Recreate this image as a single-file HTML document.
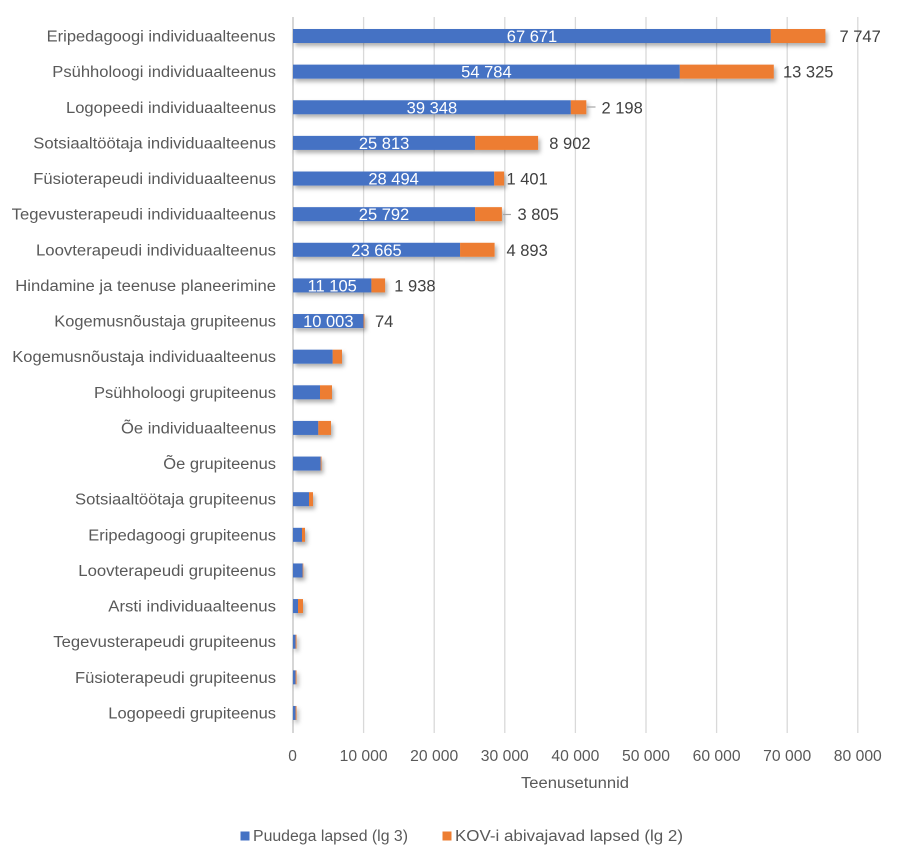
<!DOCTYPE html>
<html><head><meta charset="utf-8"><style>
html,body{margin:0;padding:0;background:#fff;}
svg{display:block;}
text{font-family:"Liberation Sans",Arial,sans-serif;}
</style></head><body>
<svg width="901" height="859" viewBox="0 0 901 859" xmlns="http://www.w3.org/2000/svg">
<defs>
<filter id="sh" x="-5%" y="-50%" width="115%" height="250%">
<feDropShadow dx="2" dy="3" stdDeviation="2" flood-color="#000" flood-opacity="0.32"/>
</filter>
</defs>
<rect width="901" height="859" fill="#fff"/>
<!-- gridlines -->
<g stroke="#d9d9d9" stroke-width="1.3">
<line x1="363.6" y1="17" x2="363.6" y2="733"/>
<line x1="434.2" y1="17" x2="434.2" y2="733"/>
<line x1="504.8" y1="17" x2="504.8" y2="733"/>
<line x1="575.4" y1="17" x2="575.4" y2="733"/>
<line x1="646" y1="17" x2="646" y2="733"/>
<line x1="716.6" y1="17" x2="716.6" y2="733"/>
<line x1="787.2" y1="17" x2="787.2" y2="733"/>
<line x1="857.8" y1="17" x2="857.8" y2="733"/>
</g>
<line x1="293" y1="17" x2="293" y2="733" stroke="#c8c8c8" stroke-width="1.5"/>

<!-- bars -->
<g filter="url(#sh)">
<g>
<rect x="293" y="29" width="477.8" height="14" fill="#4472C4"/><rect x="770.8" y="29" width="54.6" height="14" fill="#ED7D31"/>
</g>
<g>
<rect x="293" y="64.63" width="386.8" height="14" fill="#4472C4"/><rect x="679.8" y="64.63" width="94" height="14" fill="#ED7D31"/>
</g>
<g>
<rect x="293" y="100.26" width="277.8" height="14" fill="#4472C4"/><rect x="570.8" y="100.26" width="15.5" height="14" fill="#ED7D31"/>
</g>
<g>
<rect x="293" y="135.89" width="182.2" height="14" fill="#4472C4"/><rect x="475.2" y="135.89" width="62.9" height="14" fill="#ED7D31"/>
</g>
<g>
<rect x="293" y="171.52" width="201.2" height="14" fill="#4472C4"/><rect x="494.2" y="171.52" width="9.9" height="14" fill="#ED7D31"/>
</g>
<g>
<rect x="293" y="207.15" width="182.1" height="14" fill="#4472C4"/><rect x="475.1" y="207.15" width="26.8" height="14" fill="#ED7D31"/>
</g>
<g>
<rect x="293" y="242.78" width="167.1" height="14" fill="#4472C4"/><rect x="460.1" y="242.78" width="34.5" height="14" fill="#ED7D31"/>
</g>
<g>
<rect x="293" y="278.41" width="78.4" height="14" fill="#4472C4"/><rect x="371.4" y="278.41" width="13.7" height="14" fill="#ED7D31"/>
</g>
<g>
<rect x="293" y="314.04" width="70.6" height="14" fill="#4472C4"/><rect x="363.6" y="314.04" width="0.8" height="14" fill="#ED7D31"/>
</g>
<g>
<rect x="293" y="349.67" width="39.7" height="14" fill="#4472C4"/><rect x="332.7" y="349.67" width="9.3" height="14" fill="#ED7D31"/>
</g>
<g>
<rect x="293" y="385.3" width="27" height="14" fill="#4472C4"/><rect x="320" y="385.3" width="12" height="14" fill="#ED7D31"/>
</g>
<g>
<rect x="293" y="420.93" width="25.3" height="14" fill="#4472C4"/><rect x="318.3" y="420.93" width="12.7" height="14" fill="#ED7D31"/>
</g>
<g>
<rect x="293" y="456.56" width="27.7" height="14" fill="#4472C4"/><rect x="320.7" y="456.56" width="0.8" height="14" fill="#ED7D31"/>
</g>
<g>
<rect x="293" y="492.19" width="16" height="14" fill="#4472C4"/><rect x="309" y="492.19" width="4" height="14" fill="#ED7D31"/>
</g>
<g>
<rect x="293" y="527.82" width="9" height="14" fill="#4472C4"/><rect x="302" y="527.82" width="3" height="14" fill="#ED7D31"/>
</g>
<g>
<rect x="293" y="563.45" width="9.7" height="14" fill="#4472C4"/><rect x="302.7" y="563.45" width="0.6" height="14" fill="#ED7D31"/>
</g>
<g>
<rect x="293" y="599.08" width="5" height="14" fill="#4472C4"/><rect x="298" y="599.08" width="5" height="14" fill="#ED7D31"/>
</g>
<g>
<rect x="293" y="634.71" width="2.6" height="14" fill="#4472C4"/><rect x="295.6" y="634.71" width="0.9" height="14" fill="#ED7D31"/>
</g>
<g>
<rect x="293" y="670.34" width="2.6" height="14" fill="#4472C4"/><rect x="295.6" y="670.34" width="0.9" height="14" fill="#ED7D31"/>
</g>
<g>
<rect x="293" y="705.97" width="2.6" height="14" fill="#4472C4"/><rect x="295.6" y="705.97" width="0.9" height="14" fill="#ED7D31"/>
</g>
</g>

<!-- inner labels -->
<g fill="#ffffff" font-size="16.5" text-anchor="middle">
<text x="532" y="42">67 671</text>
<text x="486.4" y="77.6">54 784</text>
<text x="431.9" y="113.3">39 348</text>
<text x="384.1" y="148.9">25 813</text>
<text x="393.6" y="184.5">28 494</text>
<text x="384" y="220.2">25 792</text>
<text x="376.5" y="255.8">23 665</text>
<text x="332.2" y="291.4">11 105</text>
<text x="328.3" y="327">10 003</text>
</g>

<!-- outer labels -->
<g fill="#404040" font-size="16.5">
<text x="839.5" y="42">7 747</text>
<text x="783" y="77.6">13 325</text>
<text x="601.5" y="113.3">2 198</text>
<text x="549.3" y="148.9">8 902</text>
<text x="506.5" y="184.5">1 401</text>
<text x="517.5" y="220.2">3 805</text>
<text x="506.5" y="255.8">4 893</text>
<text x="394.3" y="291.4">1 938</text>
<text x="375" y="327">74</text>
</g>
<g stroke="#a6a6a6" stroke-width="1.2">
<line x1="587" y1="107" x2="595.5" y2="107"/>
<line x1="503" y1="214.5" x2="511" y2="214.5"/>
</g>

<!-- category labels -->
<g fill="#595959" font-size="15.5">
<text x="46.7" y="41.5" textLength="229" lengthAdjust="spacingAndGlyphs">Eripedagoogi individuaalteenus</text>
<text x="52.3" y="77.1" textLength="223.7" lengthAdjust="spacingAndGlyphs">Psühholoogi individuaalteenus</text>
<text x="66" y="112.8" textLength="210" lengthAdjust="spacingAndGlyphs">Logopeedi individuaalteenus</text>
<text x="33.3" y="148.4" textLength="242.7" lengthAdjust="spacingAndGlyphs">Sotsiaaltöötaja individuaalteenus</text>
<text x="33.3" y="184" textLength="242.7" lengthAdjust="spacingAndGlyphs">Füsioterapeudi individuaalteenus</text>
<text x="11.7" y="219.7" textLength="264.3" lengthAdjust="spacingAndGlyphs">Tegevusterapeudi individuaalteenus</text>
<text x="36" y="255.3" textLength="240" lengthAdjust="spacingAndGlyphs">Loovterapeudi individuaalteenus</text>
<text x="15.3" y="290.9" textLength="260.7" lengthAdjust="spacingAndGlyphs">Hindamine ja teenuse planeerimine</text>
<text x="54.3" y="326.5" textLength="221.7" lengthAdjust="spacingAndGlyphs">Kogemusnõustaja grupiteenus</text>
<text x="12.3" y="362.2" textLength="263.7" lengthAdjust="spacingAndGlyphs">Kogemusnõustaja individuaalteenus</text>
<text x="94" y="397.8" textLength="182" lengthAdjust="spacingAndGlyphs">Psühholoogi grupiteenus</text>
<text x="121" y="433.4" textLength="155" lengthAdjust="spacingAndGlyphs">Õe individuaalteenus</text>
<text x="163.3" y="469.1" textLength="112.7" lengthAdjust="spacingAndGlyphs">Õe grupiteenus</text>
<text x="75" y="504.7" textLength="201" lengthAdjust="spacingAndGlyphs">Sotsiaaltöötaja grupiteenus</text>
<text x="88.3" y="540.3" textLength="187.7" lengthAdjust="spacingAndGlyphs">Eripedagoogi grupiteenus</text>
<text x="78.3" y="576" textLength="197.7" lengthAdjust="spacingAndGlyphs">Loovterapeudi grupiteenus</text>
<text x="108.3" y="611.6" textLength="167.7" lengthAdjust="spacingAndGlyphs">Arsti individuaalteenus</text>
<text x="53.3" y="647.2" textLength="222.7" lengthAdjust="spacingAndGlyphs">Tegevusterapeudi grupiteenus</text>
<text x="75" y="682.8" textLength="201" lengthAdjust="spacingAndGlyphs">Füsioterapeudi grupiteenus</text>
<text x="108.3" y="718.5" textLength="167.7" lengthAdjust="spacingAndGlyphs">Logopeedi grupiteenus</text>
</g>

<!-- x axis tick labels -->
<g fill="#595959" font-size="15.5" text-anchor="middle">
<text x="292.5" y="761">0</text>
<text x="363.6" y="761" textLength="48" lengthAdjust="spacingAndGlyphs">10 000</text>
<text x="434.2" y="761" textLength="48" lengthAdjust="spacingAndGlyphs">20 000</text>
<text x="504.8" y="761" textLength="48" lengthAdjust="spacingAndGlyphs">30 000</text>
<text x="575.4" y="761" textLength="48" lengthAdjust="spacingAndGlyphs">40 000</text>
<text x="646" y="761" textLength="48" lengthAdjust="spacingAndGlyphs">50 000</text>
<text x="716.6" y="761" textLength="48" lengthAdjust="spacingAndGlyphs">60 000</text>
<text x="787.2" y="761" textLength="48" lengthAdjust="spacingAndGlyphs">70 000</text>
<text x="857.8" y="761" textLength="48" lengthAdjust="spacingAndGlyphs">80 000</text>
</g>
<text x="575" y="788" fill="#595959" font-size="15.5" text-anchor="middle" textLength="108" lengthAdjust="spacingAndGlyphs">Teenusetunnid</text>

<!-- legend -->
<rect x="240.5" y="831.5" width="9" height="9" fill="#4472C4"/>
<text x="253" y="841" fill="#595959" font-size="15.5" textLength="155" lengthAdjust="spacingAndGlyphs">Puudega lapsed (lg 3)</text>
<rect x="442.5" y="831.5" width="9" height="9" fill="#ED7D31"/>
<text x="455" y="841" fill="#595959" font-size="15.5" textLength="228" lengthAdjust="spacingAndGlyphs">KOV-i abivajavad lapsed (lg 2)</text>
</svg>
</body></html>
